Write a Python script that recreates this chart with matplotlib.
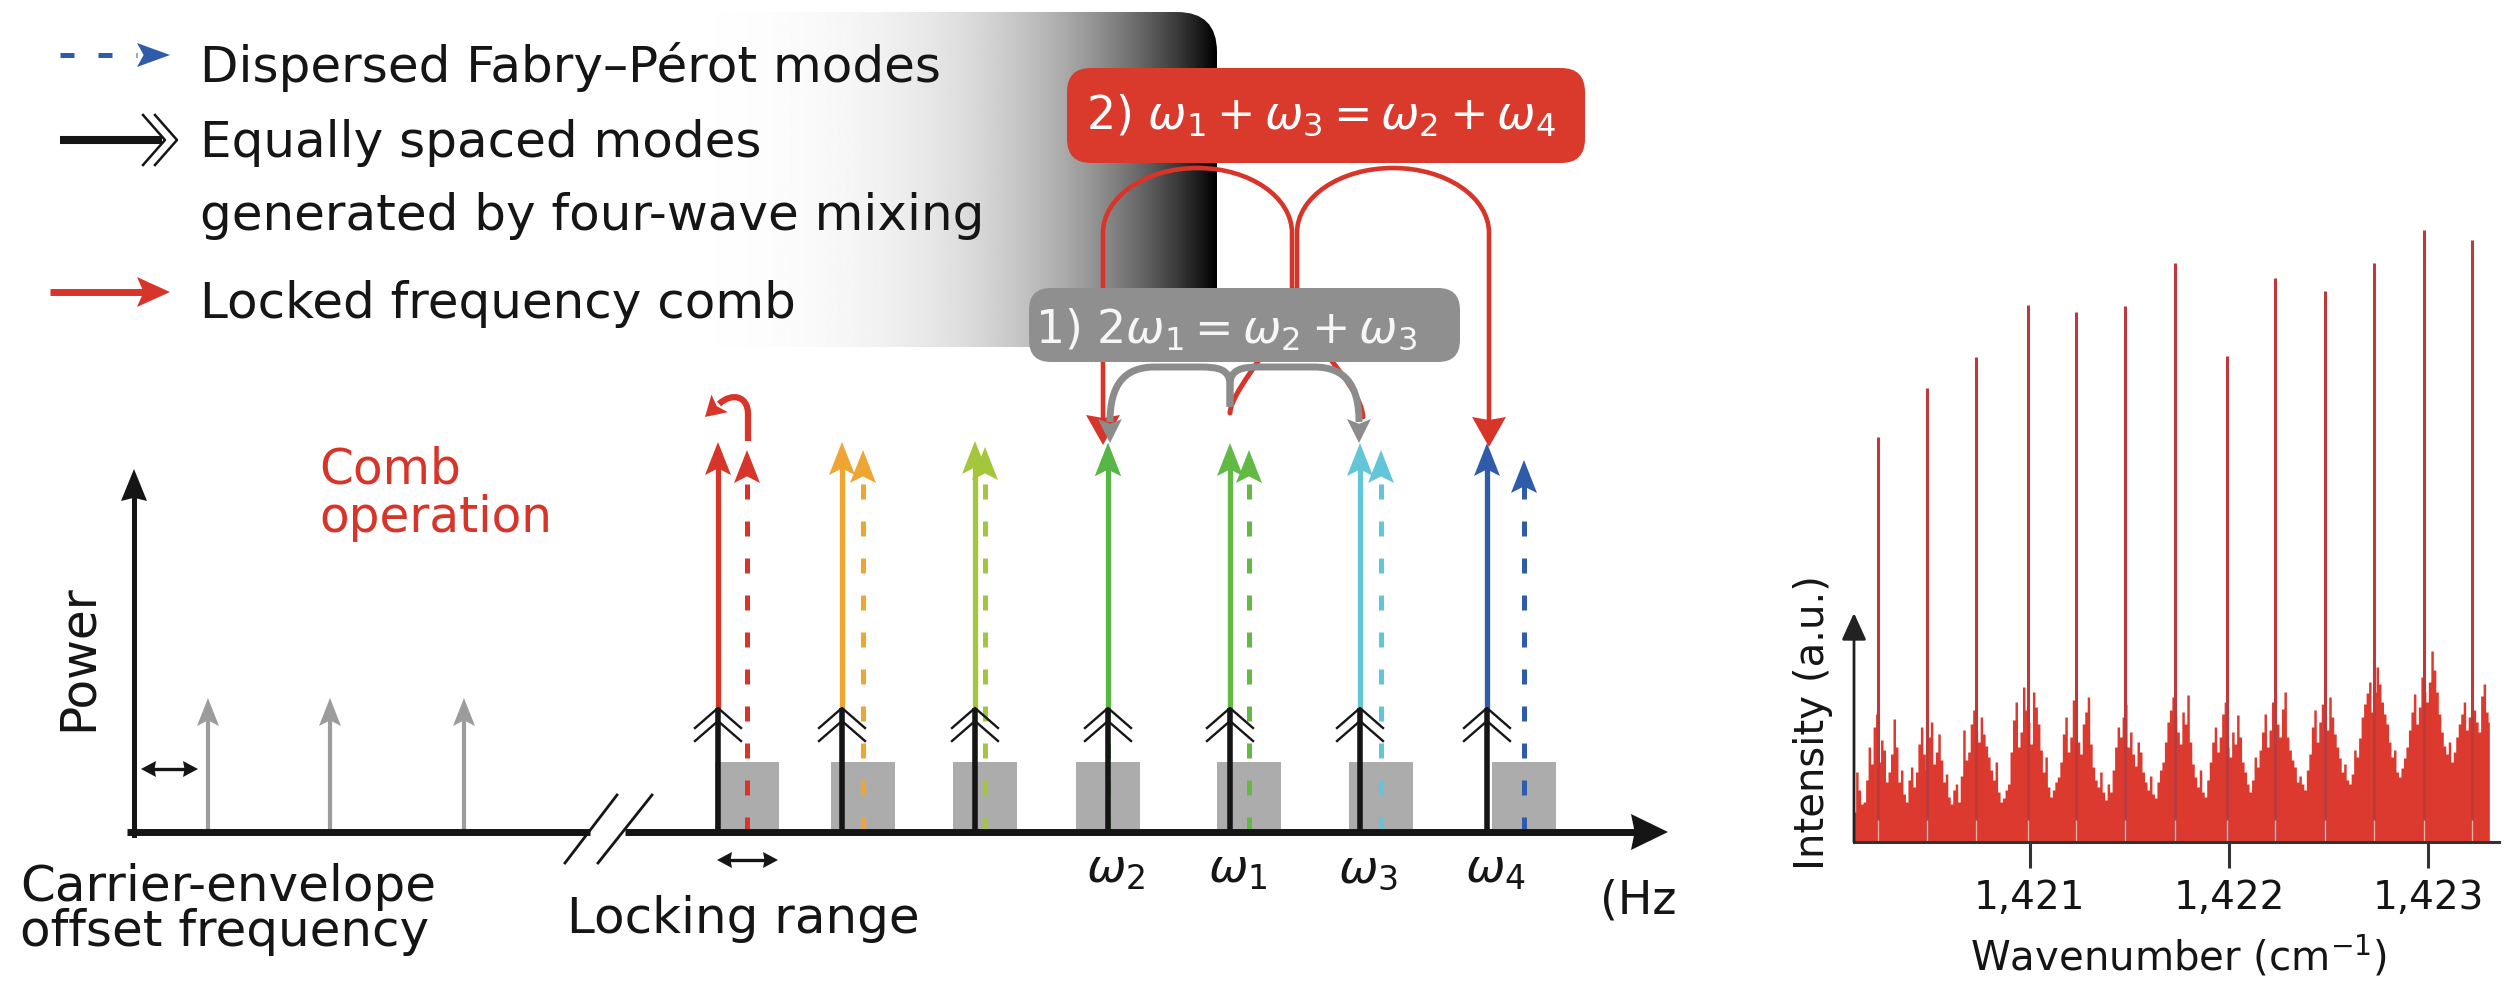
import numpy as np
import matplotlib.pyplot as plt
from matplotlib.patches import FancyBboxPatch, Polygon, Rectangle, PathPatch
from matplotlib.path import Path

W, H = 2515, 984          # output size in px (dpi 100)
LEFT_W = 1677             # width of the schematic panel

# ---------------- schematic data (px units of the drawing) ----------------
base_y = 832
power_axis_x = 134
power_axis_top = 469
ceo_x = [208, 330, 464]
ceo_top = 698

comb_x = [718, 842, 975, 1108, 1230, 1360, 1487]
comb_top = [442, 442, 441, 443, 443, 443, 443]
fp_x = [747, 863, 985, 1108, 1249, 1381, 1524]
fp_top = [450, 450, 447, 443, 450, 450, 460]
mode_colors = ['#d8352a', '#eea532', '#a3c63a', '#58b647', '#62ba44', '#63c5d8', '#2f5ba8']
fwm_top = 708
lock_top = 762
lock_w = 64

omega_mode = [3, 4, 5, 6]
omega_text = [r'$\omega_2$', r'$\omega_1$', r'$\omega_3$', r'$\omega_4$']

legend_lines = ['Dispersed Fabry\u2013P\u00e9rot modes', 'Equally spaced modes',
                'generated by four-wave mixing', 'Locked frequency comb']
legend_base = [82, 157, 230, 318]

# ---------------- spectrum data ----------------
spike_wn = [1420.238, 1420.484, 1420.729, 1420.990, 1421.230, 1421.480, 1421.730,
            1421.990, 1422.230, 1422.480, 1422.730, 1422.980, 1423.220]
spike_int = [405, 454, 485, 537, 530, 536, 579, 486, 564, 551, 579, 612, 602]
noise_start = 1420.12
noise_step = 0.025
noise_int = [30, 52, 40, 95, 115, 80, 92, 70, 123, 60,
             48, 62, 55, 98, 88, 105, 78, 108, 60, 45,
             52, 40, 112, 90, 132, 100, 108, 85, 62, 50,
             44, 58, 122, 95, 155, 120, 150, 118, 70, 55,
             52, 65, 108, 90, 142, 100, 118, 145, 75, 55,
             50, 58, 72, 115, 125, 95, 88, 100, 70, 52,
             48, 60, 80, 120, 145, 110, 130, 147, 78, 55,
             50, 62, 100, 90, 128, 95, 110, 127, 80, 58,
             62, 75, 110, 95, 140, 118, 133, 105, 82, 60,
             58, 72, 115, 100, 138, 112, 125, 95, 70, 62,
             68, 85, 125, 149, 130, 175, 140, 118, 85, 70,
             74, 95, 130, 118, 165, 140, 191, 150, 110, 88,
             80, 105, 128, 112, 144, 120, 146, 130]
# samples half a step to the right of each value above
noise_mid = [70, 38, 62, 78, 128, 102, 60, 88, 95, 72,
             40, 75, 70, 115, 72, 120, 90, 82, 68, 38,
             58, 66, 82, 118, 112, 125, 96, 72, 80, 40,
             52, 90, 140, 110, 132, 98, 135, 92, 85, 45,
             60, 80, 125, 105, 120, 88, 130, 98, 62, 70,
             42, 50, 95, 105, 138, 110, 76, 90, 60, 66,
             44, 72, 100, 132, 125, 98, 118, 100, 65, 72,
             45, 80, 115, 105, 140, 85, 98, 105, 70, 50,
             85, 92, 128, 112, 160, 105, 150, 92, 75, 66,
             52, 88, 132, 120, 125, 145, 108, 84, 78, 58,
             92, 104, 138, 160, 150, 158, 128, 100, 92, 65,
             84, 112, 148, 135, 150, 160, 172, 128, 96, 100,
             90, 118, 140, 125, 132, 110, 158, 120]

RED = '#d8352a'
INK = '#151515'

fig = plt.figure(figsize=(W / 100, H / 100), dpi=100)
ax = fig.add_axes([0, 0, LEFT_W / W, 1])


def head(tip, direction, length, half, color, z, notch=0.2):
    tx, ty = tip
    dx, dy = direction
    n = np.hypot(dx, dy)
    dx, dy = dx / n, dy / n
    bx, by = tx - dx * length, ty - dy * length
    px, py = -dy, dx
    pts = [(tx, ty), (bx + px * half, by + py * half),
           (tx - dx * length * (1 - notch), ty - dy * length * (1 - notch)),
           (bx - px * half, by - py * half)]
    ax.add_patch(Polygon(pts, closed=True, fc=color, ec='none', zorder=z))


def up_arrow(x, y0, y1, color, lw, ls='-', hl=33, hw=13, z=4):
    ax.plot([x, x], [y0, y1 + hl * 0.7], color=color, lw=lw, ls=ls,
            solid_capstyle='butt', dash_capstyle='butt', zorder=z)
    head((x, y1), (0, -1), hl, hw, color, z)


def chevron(x, y, size=(23, 20), lw=1.7):
    a, b = size
    ax.plot([x - a, x, x + a], [y + b, y, y + b], color=INK, lw=lw, zorder=5)


def double_arrow(x0, x1, y):
    ax.plot([x0 + 10, x1 - 10], [y, y], color=INK, lw=2.4, zorder=5)
    head((x0, y), (-1, 0), 15, 8, INK, 5, notch=0.1)
    head((x1, y), (1, 0), 15, 8, INK, 5, notch=0.1)


def arch(xa, ya, xb, yb, ytop, ry):
    k = 0.5523
    xm, rx, yc = (xa + xb) / 2, (xb - xa) / 2, ytop + ry
    v = [(xa, ya), (xa, yc), (xa, yc - k * ry), (xm - k * rx, ytop), (xm, ytop),
         (xm + k * rx, ytop), (xb, yc - k * ry), (xb, yc), (xb, yb)]
    c = [Path.MOVETO, Path.LINETO] + [Path.CURVE4] * 6 + [Path.LINETO]
    return Path(v, c)


# background gradient panel behind the legend
xs = np.linspace(40, 1217, 800)
t = np.clip((xs - 500) / (1217 - 500), 0, 1)
grad = ax.imshow((1 - t ** 4.6)[None, :], cmap='gray', vmin=0, vmax=1,
                 extent=(40, 1217, 347, 12), aspect='auto', zorder=0,
                 interpolation='bilinear')
panel = FancyBboxPatch((40, 12), 1177, 335, boxstyle='round,pad=0,rounding_size=40',
                       fc='none', ec='none')
ax.add_patch(panel)
grad.set_clip_path(panel)

# legend
ax.plot([60, 137], [55, 55], color='#2f5ba8', lw=3.6, ls=(0, (2.8, 4.8)),
        dash_capstyle='butt', zorder=3)
head((170, 55), (1, 0), 33, 12, '#2f5ba8', 3)
ax.plot([60, 162], [140, 140], color=INK, lw=5.8, solid_capstyle='butt', zorder=3)
for tip in (165, 177):
    ax.plot([tip - 22, tip, tip - 22], [115, 140, 165], color=INK, lw=1.8, zorder=3)
ax.plot([50, 145], [292, 292], color=RED, lw=5, solid_capstyle='butt', zorder=3)
head((170, 292), (1, 0), 33, 15, RED, 3)
for txt, yb in zip(legend_lines, legend_base):
    ax.text(200, yb, txt, fontsize=36, color=INK, va='baseline', ha='left', zorder=3)

# axes of the schematic
ax.plot([power_axis_x, power_axis_x], [base_y + 3, power_axis_top + 25], color=INK,
        lw=3.6, zorder=5)
head((power_axis_x, power_axis_top), (0, -1), 32, 13, INK, 5, notch=0.1)
ax.plot([127, 590], [base_y, base_y], color=INK, lw=5, solid_capstyle='butt', zorder=5)
ax.plot([625, 1640], [base_y, base_y], color=INK, lw=5, solid_capstyle='butt', zorder=5)
head((1668, base_y), (1, 0), 37, 18, INK, 5, notch=0.1)
ax.plot([565, 617], [863, 795], color=INK, lw=2, zorder=5)
ax.plot([598, 652], [863, 795], color=INK, lw=2, zorder=5)

# carrier-envelope offset modes
for x in ceo_x:
    ax.plot([x, x], [base_y, ceo_top + 20], color='#9c9c9c', lw=3, zorder=4)
    head((x, ceo_top), (0, -1), 28, 11, '#9c9c9c', 4)
double_arrow(141, 198, 769)
double_arrow(717, 778, 860)

# comb / Fabry-Perot modes
for i, (cx, fx, c) in enumerate(zip(comb_x, fp_x, mode_colors)):
    ax.add_patch(Rectangle((fx - lock_w / 2, lock_top), lock_w, base_y - lock_top,
                           fc='#acacac', ec='none', zorder=1))
    up_arrow(fx, base_y, fp_top[i], c, 3.6, ls=(0, (3, 4.4)), z=2)
    ax.plot([cx, cx], [base_y, fwm_top], color=INK, lw=4, solid_capstyle='butt', zorder=3)
    up_arrow(cx, fwm_top, comb_top[i], c, 3.8, z=3)
    for dy in (0, 13):
        chevron(cx, fwm_top + dy)

# locking hook on the first mode
hook = Path([(748, 441), (748, 414), (748, 396), (732, 392), (719, 404)],
            [Path.MOVETO, Path.LINETO, Path.CURVE4, Path.CURVE4, Path.CURVE4])
ax.add_patch(PathPatch(hook, fc='none', ec=RED, lw=4.5, capstyle='butt', zorder=4))
head((705, 417), (-14, 13), 20, 12, RED, 4)

# four-wave mixing connectors
ax.add_patch(PathPatch(arch(1292, 300, 1103, 420, 168, 65), fc='none', ec=RED, lw=3.3, zorder=6))
head((1103, 445), (0, 1), 30, 17, RED, 6, notch=0.1)
ax.add_patch(PathPatch(arch(1297, 300, 1489, 422, 168, 65), fc='none', ec=RED, lw=3.3, zorder=6))
head((1489, 447), (0, 1), 30, 17, RED, 6, notch=0.1)
for v in ([(1230, 413), (1232, 385), (1292, 330), (1292, 290)],
          [(1363, 417), (1360, 380), (1300, 340), (1295, 290)]):
    ax.add_patch(PathPatch(Path(v, [Path.MOVETO] + [Path.CURVE4] * 3), fc='none',
                           ec=RED, lw=3.6, capstyle='round', zorder=6))

GREY = '#8c8c8c'
for sgn, x_end in ((-1, 1110), (1, 1359)):
    v = [(1230, 407), (1230, 385), (1230, 369), (1230 + sgn * 12, 367), (1230 + sgn * 30, 367),
         (x_end - sgn * 45, 367), (x_end - sgn * 14, 367), (x_end, 385), (x_end, 422)]
    c = [Path.MOVETO, Path.LINETO, Path.CURVE4, Path.CURVE4, Path.CURVE4,
         Path.LINETO, Path.CURVE4, Path.CURVE4, Path.CURVE4]
    ax.add_patch(PathPatch(Path(v, c), fc='none', ec=GREY, lw=5, zorder=7))
    head((x_end, 443), (0, 1), 24, 12, GREY, 7)

ax.add_patch(FancyBboxPatch((1067, 68), 518, 95, boxstyle='round,pad=0,rounding_size=24',
                            fc='#da3a2c', ec='none', zorder=8))
ax.text(1321, 128, r'2) $\omega_1 + \omega_3 = \omega_2 + \omega_4$', color='white',
        fontsize=33, ha='center', va='baseline', zorder=9)
ax.add_patch(FancyBboxPatch((1029, 288), 431, 74, boxstyle='round,pad=0,rounding_size=22',
                            fc='#8f8f8f', ec='none', zorder=8))
ax.text(1226, 342, r'1) 2$\omega_1 = \omega_2 + \omega_3$', color='#f6f6f6',
        fontsize=33, ha='center', va='baseline', zorder=9)

# labels of the schematic
ax.text(319, 484, 'Comb', color=RED, fontsize=35, va='baseline')
ax.text(319, 532, 'operation', color=RED, fontsize=35, va='baseline')
ax.text(78, 658, 'Power', color=INK, fontsize=35, rotation=90, ha='center', va='center')
ax.text(20, 901, 'Carrier-envelope', color=INK, fontsize=36, va='baseline')
ax.text(20, 946, 'offset frequency', color=INK, fontsize=36, va='baseline')
ax.text(567, 933, 'Locking range', color=INK, fontsize=36, va='baseline')
for m, lab in zip(omega_mode, omega_text):
    ax.text(comb_x[m] - 22, 882, lab, color=INK, fontsize=34, va='baseline')
ax.text(1600, 914, '(Hz)', color=INK, fontsize=33, va='baseline', clip_on=True)

ax.set_xlim(0, LEFT_W)
ax.set_ylim(H, 0)
ax.axis('off')

# ---------------- spectrum panel ----------------
ax2 = fig.add_axes([1854 / W, (H - 842) / H, (2499 - 1854) / W, (842 - 150) / H])
idx = np.arange(len(noise_int))
noise_x = np.column_stack([noise_start + noise_step * idx,
                           noise_start + noise_step * (idx + 0.5)]).ravel()
noise_y = np.column_stack([noise_int, noise_mid]).ravel()
ax2.fill_between(noise_x, 0, noise_y, step='mid', color='#dc3a2f', lw=0)
ax2.vlines(spike_wn, 0, spike_int, color='#bd3a3c', lw=2.2)
ax2.vlines(spike_wn, 0, 22, color='#f3b0a8', lw=1)
ax2.set_xlim(1420.118, 1423.356)
ax2.set_ylim(0, 692)
for s in ('top', 'right', 'left'):
    ax2.spines[s].set_visible(False)
ax2.spines['bottom'].set_linewidth(2.2)
ax2.spines['bottom'].set_color('#333333')
ax2.set_yticks([])
ax2.set_xticks([1421, 1422, 1423])
ax2.set_xticklabels(['1,421', '1,422', '1,423'])
ax2.tick_params(axis='x', direction='out', length=19, width=2.2, color='#333333',
                pad=8, labelsize=28, labelcolor=INK)
ax2.annotate('', xy=(0, 229), xytext=(0, 0),
             xycoords=('axes fraction', 'data'), textcoords=('axes fraction', 'data'),
             arrowprops=dict(arrowstyle='-|>,head_length=1.1,head_width=0.5', color='#222222',
                             lw=2, shrinkA=0, shrinkB=0, mutation_scale=15))
ax2.set_xlabel(r'Wavenumber (cm$^{-1}$)', fontsize=29, color=INK)
ax2.xaxis.set_label_coords(0.504, -0.185)
ax2.xaxis.label.set_va('baseline')
ax2.set_ylabel('Intensity (a.u.)', fontsize=29, color=INK, va='center')
ax2.yaxis.set_label_coords(-0.064, 0.173)

fig.savefig('out.png', dpi=100, facecolor='white')
